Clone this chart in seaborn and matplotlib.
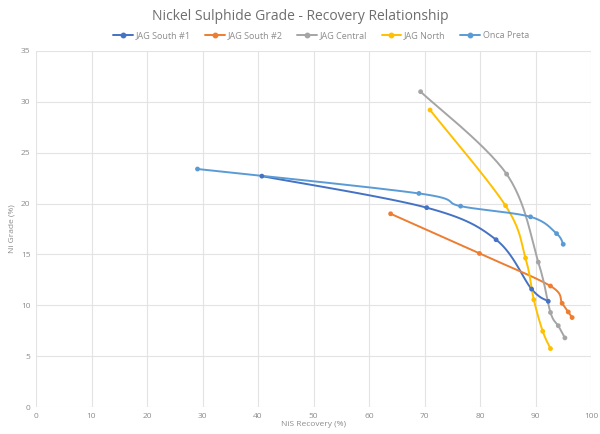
import numpy as np
import pandas as pd
import seaborn as sns
import matplotlib
matplotlib.use("Agg")
import matplotlib.pyplot as plt
from matplotlib.lines import Line2D

# 数据
series_names = ["JAG South #1", "JAG South #2", "JAG Central", "JAG North", "Onca Preta"]
colors = ["#4472C4", "#ED7D31", "#A5A5A5", "#FFC000", "#5B9BD5"]

south1_rec = [40.7, 70.4, 82.9, 89.3, 92.3]
south1_grade = [22.7, 19.6, 16.45, 11.6, 10.4]

south2_rec = [63.9, 79.9, 92.7, 94.8, 95.9, 96.6]
south2_grade = [19.0, 15.1, 11.9, 10.2, 9.35, 8.8]

central_rec = [69.3, 84.8, 90.5, 92.7, 94.1, 95.3]
central_grade = [31.0, 22.9, 14.25, 9.3, 8.0, 6.8]

north_rec = [71.0, 84.6, 88.2, 89.7, 91.3, 92.7]
north_grade = [29.2, 19.8, 14.65, 10.55, 7.45, 5.75]

onca_rec = [29.1, 69.0, 76.5, 89.1, 93.8, 95.0]
onca_grade = [23.4, 21.0, 19.75, 18.7, 17.05, 16.0]

all_rec = [south1_rec, south2_rec, central_rec, north_rec, onca_rec]
all_grade = [south1_grade, south2_grade, central_grade, north_grade, onca_grade]


def smooth(x, y, n=30):
    # Excel 风格的平滑线（Catmull-Rom / Bezier）
    p = np.column_stack([x, y]).astype(float)
    out = []
    for i in range(len(p) - 1):
        p0 = p[i - 1] if i > 0 else p[i]
        p1, p2 = p[i], p[i + 1]
        p3 = p[i + 2] if i + 2 < len(p) else p[i + 1]
        c1 = p1 + (p2 - p0) / 6
        c2 = p2 - (p3 - p1) / 6
        t = np.linspace(0, 1, n)[:, None]
        seg = ((1 - t) ** 3) * p1 + 3 * ((1 - t) ** 2) * t * c1 + 3 * (1 - t) * t ** 2 * c2 + t ** 3 * p2
        out.append(seg if i == 0 else seg[1:])
    out = np.vstack(out)
    return out[:, 0], out[:, 1]


rows = []
pts = []
for name, xr, yg in zip(series_names, all_rec, all_grade):
    sx, sy = smooth(xr, yg)
    for k, (a, b) in enumerate(zip(sx, sy)):
        rows.append({"series": name, "order": k, "rec": a, "grade": b})
    for a, b in zip(xr, yg):
        pts.append({"series": name, "rec": a, "grade": b})
curve_df = pd.DataFrame(rows)
pts_df = pd.DataFrame(pts)

sns.set_style("white")
plt.rcParams["font.family"] = ["Open Sans", "DejaVu Sans"]

fig = plt.figure(figsize=(6, 4.34), dpi=100)
ax = fig.add_axes([0.06, 0.062, 0.925, 0.8205])

palette = dict(zip(series_names, colors))
sns.lineplot(data=curve_df, x="rec", y="grade", hue="series", units="series",
             estimator=None, sort=False, palette=palette, linewidth=1.4,
             legend=False, ax=ax)
sns.scatterplot(data=pts_df, x="rec", y="grade", hue="series", palette=palette,
                s=12, edgecolor="none", legend=False, ax=ax, zorder=3)

ax.set_xlim(0, 100)
ax.set_ylim(0, 35)
ax.set_xticks(range(0, 101, 10))
ax.set_yticks(range(0, 36, 5))
ax.grid(True, color="#E3E3E3", linewidth=0.8)
ax.set_axisbelow(True)
for s in ax.spines.values():
    s.set_visible(False)
ax.tick_params(axis="both", length=0, labelsize=6, labelcolor="#8C8C8C", pad=4)
ax.set_xlabel("NiS Recovery (%)", fontsize=6, color="#8C8C8C", labelpad=1)
ax.set_ylabel("Ni Grade (%)", fontsize=6, color="#8C8C8C", labelpad=4)

fig.text(0.5, 0.963, "Nickel Sulphide Grade - Recovery Relationship",
         ha="center", va="center", fontsize=10, color="#6E6E6E")

handles = [Line2D([0], [0], color=c, lw=1.4, marker="o", markersize=3.2) for c in colors]
fig.legend(handles, series_names, loc="center", bbox_to_anchor=(0.535, 0.918),
           ncol=5, frameon=False, fontsize=6.5, labelcolor="#8C8C8C",
           handlelength=2.2, handletextpad=0.3, columnspacing=1.6)

fig.savefig("out.png", dpi=100)
